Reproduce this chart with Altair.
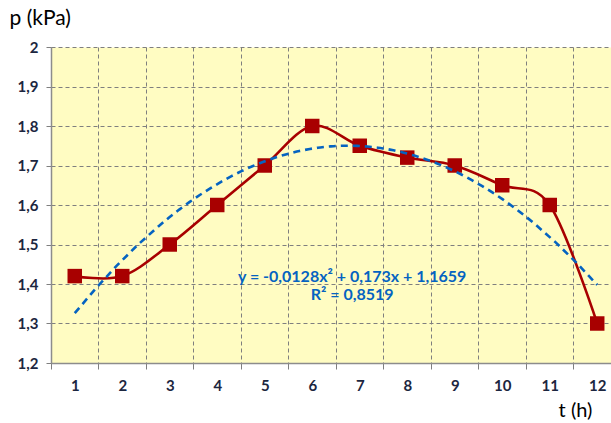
import altair as alt
import pandas as pd

# ---- data ----
hours = [1, 2, 3, 4, 5, 6, 7, 8, 9, 10, 11, 12]
pressure = [1.42, 1.42, 1.50, 1.60, 1.70, 1.80, 1.75, 1.72, 1.70, 1.65, 1.60, 1.30]
x_ticks = [0.5, 1, 1.5, 2, 2.5, 3, 3.5, 4, 4.5, 5, 5.5, 6, 6.5, 7, 7.5, 8, 8.5,
           9, 9.5, 10, 10.5, 11, 11.5, 12]
y_ticks = [1.2, 1.3, 1.4, 1.5, 1.6, 1.7, 1.8, 1.9, 2.0]
eq_labels = ["y = -0,0128x² + 0,173x + 1,1659", "R² = 0,8519"]
eq_x = [6.84, 6.84]
eq_y = [1.418, 1.372]

df = pd.DataFrame({"t": hours, "p": pressure})
ann = pd.DataFrame({"t": eq_x, "p": eq_y, "label": eq_labels})

RED = "#A80000"
BLUE = "#0563C1"
LABEL = "#1C2640"
GRID = "#7F7F7F"
FONT = "Lato"

xscale = alt.Scale(domain=[0.5, 12.29], nice=False, zero=False)
yscale = alt.Scale(domain=[1.2, 2.0], nice=False, zero=False)

is_int = "datum.value % 1 == 0"

xaxis = alt.Axis(
    values=x_ticks,
    labelExpr="(datum.value % 1 == 0) ? format(datum.value, 'd') : ''",
    labelOverlap=False,
    labelFont=FONT, labelFontSize=15, labelFontWeight="bold", labelColor=LABEL,
    labelPadding=9,
    grid=True,
    gridColor=GRID, gridDash=[4, 3], gridWidth=1,
    gridOpacity={"condition": {"test": is_int, "value": 0}, "value": 1},
    ticks=True, tickSize=6, tickColor=GRID,
    tickOpacity={"condition": {"test": is_int, "value": 0}, "value": 1},
    domainColor="#8C8C8C", domainWidth=1.5,
    title="t (h)", titleFont=FONT, titleFontSize=20, titleFontWeight="normal",
    titleColor="#000000", titleAngle=0, titleX=524, titleY=47,
    titleAlign="center", titleBaseline="middle",
)

yaxis = alt.Axis(
    values=y_ticks,
    labelExpr="replace(format(datum.value, '.2~f'), '.', ',')",
    labelOverlap=False,
    labelFont=FONT, labelFontSize=15, labelFontWeight="bold", labelColor=LABEL,
    labelPadding=8,
    grid=True, gridColor=GRID, gridDash=[4, 3], gridWidth=1,
    ticks=True, tickSize=5, tickColor=GRID,
    domainColor="#8C8C8C", domainWidth=1.5,
    title="p (kPa)", titleFont=FONT, titleFontSize=21, titleFontWeight="normal",
    titleColor="#000000", titleAngle=0, titleX=-42, titleY=-29,
    titleAlign="left", titleBaseline="middle",
)

base = alt.Chart(df)

line = base.mark_line(interpolate="cardinal", color=RED, strokeWidth=2.6)

points = base.mark_point(shape="square", filled=True, size=210, color=RED, opacity=1)

trend = base.transform_regression("t", "p", method="poly", order=2).mark_line(
    color=BLUE, strokeWidth=2.6, strokeDash=[7, 5]
)

text = alt.Chart(ann).mark_text(
    font=FONT, fontSize=16, fontWeight="bold", color=BLUE, align="center", baseline="middle"
).encode(text="label:N")

chart = alt.layer(line, points, trend, text).encode(
    x=alt.X("t:Q", scale=xscale, axis=xaxis),
    y=alt.Y("p:Q", scale=yscale, axis=yaxis),
).properties(
    width=560, height=316,
    autosize=alt.AutoSizeParams(type="none"),
    padding={"left": 51, "top": 47, "right": 0, "bottom": 60},
    background="#FFFFFF",
).configure_view(fill="#FFFCC2", stroke="transparent")

chart.save("out.html", embed_options={"renderer": "svg", "actions": False})
